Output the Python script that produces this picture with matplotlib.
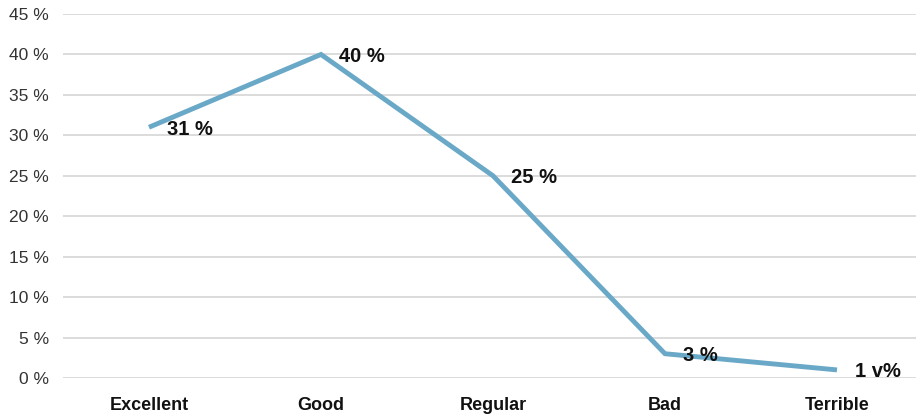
import matplotlib
matplotlib.use("Agg")
import matplotlib.pyplot as plt
from matplotlib import font_manager

categories = ["Excellent", "Good", "Regular", "Bad", "Terrible"]
values = [31, 40, 25, 3, 1]
value_labels = ["31 %", "40 %", "25 %", "3 %", "1 v%"]
y_ticks = [0, 5, 10, 15, 20, 25, 30, 35, 40, 45]
y_tick_labels = [f"{t} %" for t in y_ticks]

names = {f.name for f in font_manager.fontManager.ttflist}
font = "Liberation Sans Narrow" if "Liberation Sans Narrow" in names else "Liberation Sans"
plt.rcParams["font.family"] = [font, "DejaVu Sans"]

W, H = 916, 418
fig = plt.figure(figsize=(W / 100, H / 100), dpi=100)
ax = fig.add_axes([63 / W, 40 / H, 860 / W, 364 / H])

x = list(range(len(categories)))
ax.plot(x, values, color="#6aa8c8", linewidth=3.5, solid_capstyle="butt",
        solid_joinstyle="miter", zorder=3)

for xi, v, lab in zip(x, values, value_labels):
    ax.annotate(lab, (xi, v), xytext=(13, -1.5), textcoords="offset points",
                ha="left", va="center", fontsize=14.5, fontweight="bold",
                color="#111111", zorder=4)

ax.set_xlim(-0.5, len(categories) - 0.5)
ax.set_ylim(0, 45)
ax.set_yticks(y_ticks)
ax.set_yticklabels(y_tick_labels, fontsize=12.5, color="#333333")
ax.set_xticks(x)
ax.set_xticklabels(categories, fontsize=13, fontweight="bold", color="#111111")

ax.grid(axis="y", color="#d9d9d9", linewidth=1.3, zorder=0)
ax.set_axisbelow(True)
for s in ax.spines.values():
    s.set_visible(False)
ax.tick_params(axis="both", length=0)
ax.tick_params(axis="y", pad=10)
ax.tick_params(axis="x", pad=14)

fig.savefig("out.png", dpi=100)
